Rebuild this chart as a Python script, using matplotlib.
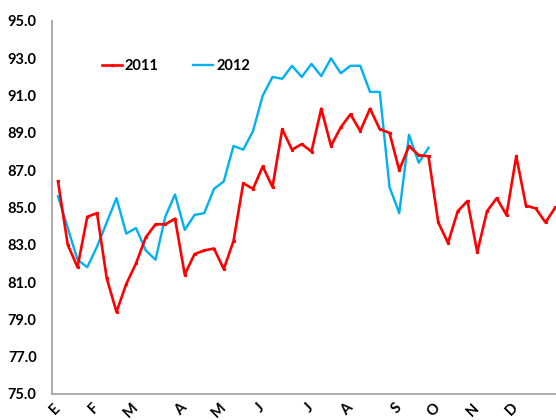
import matplotlib
matplotlib.use("Agg")
import matplotlib.pyplot as plt

# weekly index (2011 has 52 weeks, 2012 only up to early October)
red_2011 = [86.4, 83.0, 81.8, 84.5, 84.7, 81.2, 79.4, 80.9, 82.0, 83.4,
            84.1, 84.1, 84.4, 81.4, 82.5, 82.7, 82.8, 81.7, 83.2, 86.3,
            86.0, 87.2, 86.1, 89.2, 88.1, 88.4, 88.0, 90.3, 88.3, 89.3,
            90.0, 89.1, 90.3, 89.2, 89.0, 87.0, 88.3, 87.8, 87.75, 84.2,
            83.1, 84.8, 85.35, 82.6, 84.8, 85.5, 84.6, 87.75, 85.1, 84.95,
            84.2, 85.0]
blue_2012 = [85.6, 83.9, 82.2, 81.8, 82.9, 84.2, 85.5, 83.6, 83.9, 82.7,
             82.2, 84.5, 85.7, 83.8, 84.6, 84.7, 86.0, 86.4, 88.3, 88.1,
             89.1, 91.0, 92.0, 91.9, 92.6, 92.0, 92.7, 92.05, 93.0, 92.2,
             92.6, 92.6, 91.2, 91.2, 86.1, 84.7, 88.9, 87.4, 88.2]
month_weeks = [0, 4, 8, 13, 17, 21, 26, 30, 35, 39, 43, 47]
month_labels = ["E", "F", "M", "A", "M", "J", "J", "A", "S", "O", "N", "D"]
yticks = [75, 77, 79, 81, 83, 85, 87, 89, 91, 93, 95]

plt.rcParams['font.family'] = ['Lato', 'DejaVu Sans']
plt.rcParams['font.weight'] = 'bold'

fig = plt.figure(figsize=(5.56, 4.2), dpi=100)
ax = fig.add_axes([52/556, 26/420, 504/556, 373/420])

ax.plot(range(len(red_2011)), red_2011, color="#FF0000", lw=1.9,
        marker="s", ms=1.3, label="2011", zorder=3)
ax.plot(range(len(blue_2012)), blue_2012, color="#00B0F0", lw=1.7,
        label="2012", zorder=2)

ax.set_xlim(-6/9.75, 498/9.75)
ax.set_ylim(75, 95)
ax.set_yticks(yticks)
ax.set_yticklabels([f"{v:.1f}" for v in yticks], fontsize=10.5, fontweight="bold")
ax.set_xticks(month_weeks)
ax.set_xticklabels(month_labels, rotation=45, ha="right", va="center",
                   rotation_mode="anchor", fontsize=10.5, fontweight="bold")
ax.tick_params(axis="y", length=0, pad=11)
ax.tick_params(axis="x", length=0, pad=8.5)

for s in ["top", "right"]:
    ax.spines[s].set_visible(False)
for s in ["left", "bottom"]:
    ax.spines[s].set_color("#A6A6A6")
    ax.spines[s].set_linewidth(1.3)

ax.legend(loc="center left", bbox_to_anchor=(50/504, 0.879), ncol=2,
          frameon=False, borderpad=0, borderaxespad=0, handlelength=1.35,
          handletextpad=0.2, columnspacing=2.4,
          prop={"weight": "bold", "size": 10.5})

# title cut off at the top edge of the picture, as in the source
fig.text(20/556, 1.0 + 3/420, "(por ciento del hogar)", ha="left", va="baseline",
         fontsize=10.5, fontweight="bold")

fig.savefig("out.png", dpi=100)
